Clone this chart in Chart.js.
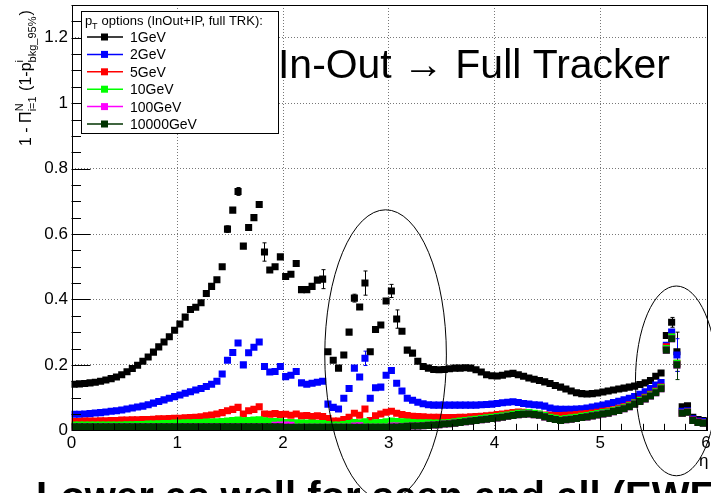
<!DOCTYPE html>
<html>
<head>
<meta charset="utf-8">
<script src="https://cdn.jsdelivr.net/npm/chart.js@4.4.0/dist/chart.umd.min.js"></script>
<style>
  html, body { margin: 0; padding: 0; background: #fff; }
  #wrap { width: 711px; height: 493px; }
</style>
</head>
<body>
<div id="wrap"><canvas id="chart" width="711" height="493"></canvas></div>
<script>
// eta bins: 120 bins of 0.05 between 0 and 6
const nBins = 120;
const binWidth = 0.05;
const etaCenters = Array.from({ length: nBins }, (_, i) => (i + 0.5) * binWidth);

const xTicks = [0, 1, 2, 3, 4, 5, 6];
const xTickLabels = ['0', '1', '2', '3', '4', '5', '6'];
const yTicks = [0, 0.2, 0.4, 0.6, 0.8, 1, 1.2];
const yTickLabels = ['0', '0.2', '0.4', '0.6', '0.8', '1', '1.2'];

const seriesLabels = ['1GeV', '2GeV', '5GeV', '10GeV', '100GeV', '10000GeV'];
const seriesColors = ['#000000', '#0000ff', '#ff0000', '#00ff00', '#ff00ff', '#003300'];

const pt1GeV = [
  0.141, 0.142, 0.143, 0.145, 0.147, 0.150, 0.154, 0.158, 0.163, 0.170,
  0.179, 0.189, 0.199, 0.211, 0.224, 0.239, 0.255, 0.270, 0.286, 0.306,
  0.325, 0.346, 0.369, 0.376, 0.390, 0.418, 0.440, 0.460, 0.500, 0.615,
  0.673, 0.730, 0.563, 0.620, 0.650, 0.690, 0.545, 0.490, 0.500, 0.530,
  0.470, 0.477, 0.510, 0.430, 0.430, 0.440, 0.459, 0.462, 0.240, 0.214,
  0.190, 0.230, 0.300, 0.404, 0.377, 0.450, 0.240, 0.308, 0.322, 0.395,
  0.426, 0.340, 0.303, 0.245, 0.236, 0.211, 0.195, 0.190, 0.186, 0.185,
  0.186, 0.188, 0.190, 0.190, 0.191, 0.190, 0.185, 0.178, 0.170, 0.167,
  0.166, 0.168, 0.172, 0.174, 0.170, 0.165, 0.160, 0.156, 0.152, 0.148,
  0.143, 0.137, 0.132, 0.126, 0.120, 0.115, 0.112, 0.111, 0.112, 0.114,
  0.117, 0.120, 0.123, 0.126, 0.129, 0.132, 0.135, 0.140, 0.145, 0.152,
  0.165, 0.175, 0.290, 0.330, 0.240, 0.072, 0.075, 0.040, 0.033, 0.030
];
const pt2GeV = [
  0.049, 0.049, 0.050, 0.051, 0.053, 0.054, 0.056, 0.058, 0.060, 0.062,
  0.065, 0.068, 0.071, 0.074, 0.078, 0.083, 0.088, 0.093, 0.098, 0.103,
  0.108, 0.113, 0.118, 0.123, 0.128, 0.134, 0.141, 0.150, 0.172, 0.214,
  0.238, 0.267, 0.200, 0.237, 0.254, 0.270, 0.195, 0.178, 0.180, 0.195,
  0.164, 0.168, 0.180, 0.145, 0.141, 0.144, 0.147, 0.150, 0.080, 0.070,
  0.065, 0.098, 0.128, 0.190, 0.163, 0.220, 0.098, 0.130, 0.132, 0.168,
  0.183, 0.144, 0.120, 0.098, 0.092, 0.086, 0.081, 0.078, 0.077, 0.077,
  0.077, 0.077, 0.077, 0.077, 0.077, 0.077, 0.077, 0.078, 0.079, 0.080,
  0.082, 0.084, 0.086, 0.087, 0.085, 0.082, 0.080, 0.078, 0.077, 0.074,
  0.068, 0.065, 0.064, 0.064, 0.064, 0.065, 0.066, 0.068, 0.071, 0.074,
  0.077, 0.081, 0.085, 0.089, 0.093, 0.098, 0.103, 0.110, 0.118, 0.128,
  0.138, 0.146, 0.260, 0.300, 0.230, 0.058, 0.060, 0.035, 0.028, 0.027
];
const pt5GeV = [
  0.027, 0.027, 0.028, 0.028, 0.028, 0.029, 0.029, 0.030, 0.030, 0.031,
  0.031, 0.032, 0.032, 0.033, 0.033, 0.034, 0.035, 0.035, 0.036, 0.037,
  0.037, 0.038, 0.039, 0.040, 0.041, 0.044, 0.047, 0.050, 0.054, 0.060,
  0.064, 0.070, 0.050, 0.060, 0.064, 0.072, 0.050, 0.049, 0.051, 0.048,
  0.049, 0.046, 0.050, 0.044, 0.045, 0.042, 0.044, 0.042, 0.036, 0.028,
  0.028, 0.033, 0.040, 0.052, 0.046, 0.065, 0.030, 0.044, 0.050, 0.055,
  0.058, 0.052, 0.048, 0.045, 0.043, 0.042, 0.041, 0.040, 0.040, 0.040,
  0.039, 0.039, 0.039, 0.040, 0.040, 0.041, 0.042, 0.043, 0.044, 0.046,
  0.048, 0.050, 0.052, 0.054, 0.056, 0.055, 0.053, 0.051, 0.049, 0.047,
  0.046, 0.045, 0.045, 0.046, 0.047, 0.048, 0.050, 0.051, 0.053, 0.055,
  0.058, 0.060, 0.063, 0.067, 0.072, 0.078, 0.085, 0.093, 0.101, 0.110,
  0.120, 0.132, 0.255, 0.285, 0.205, 0.052, 0.056, 0.031, 0.025, 0.023
];
const pt10GeV = [
  0.016, 0.016, 0.016, 0.016, 0.016, 0.016, 0.016, 0.016, 0.016, 0.016,
  0.017, 0.017, 0.018, 0.018, 0.019, 0.019, 0.020, 0.021, 0.021, 0.022,
  0.022, 0.023, 0.023, 0.024, 0.024, 0.025, 0.025, 0.026, 0.027, 0.028,
  0.030, 0.031, 0.029, 0.030, 0.031, 0.032, 0.029, 0.027, 0.027, 0.026,
  0.024, 0.024, 0.023, 0.022, 0.022, 0.022, 0.021, 0.021, 0.018, 0.016,
  0.016, 0.018, 0.021, 0.024, 0.023, 0.026, 0.020, 0.023, 0.024, 0.026,
  0.028, 0.027, 0.026, 0.025, 0.024, 0.023, 0.023, 0.023, 0.022, 0.022,
  0.023, 0.024, 0.026, 0.028, 0.030, 0.032, 0.034, 0.036, 0.038, 0.040,
  0.042, 0.044, 0.047, 0.049, 0.052, 0.053, 0.054, 0.052, 0.050, 0.045,
  0.040, 0.037, 0.034, 0.036, 0.038, 0.040, 0.043, 0.045, 0.048, 0.051,
  0.054, 0.056, 0.060, 0.064, 0.069, 0.075, 0.083, 0.091, 0.099, 0.108,
  0.118, 0.130, 0.250, 0.285, 0.205, 0.052, 0.055, 0.030, 0.024, 0.022
];
const pt100GeV = [
  0.011, 0.011, 0.011, 0.011, 0.011, 0.011, 0.011, 0.011, 0.011, 0.011,
  0.011, 0.011, 0.011, 0.011, 0.011, 0.011, 0.011, 0.011, 0.011, 0.011,
  0.011, 0.011, 0.011, 0.011, 0.011, 0.011, 0.011, 0.011, 0.011, 0.011,
  0.011, 0.011, 0.011, 0.011, 0.011, 0.011, 0.011, 0.011, 0.015, 0.016,
  0.016, 0.015, 0.009, 0.009, 0.009, 0.009, 0.009, 0.009, 0.009, 0.009,
  0.009, 0.009, 0.009, 0.013, 0.014, 0.009, 0.009, 0.009, 0.009, 0.009,
  0.013, 0.013, 0.011, 0.012, 0.013, 0.013, 0.014, 0.015, 0.016, 0.017,
  0.019, 0.020, 0.022, 0.024, 0.026, 0.028, 0.030, 0.032, 0.034, 0.036,
  0.038, 0.040, 0.043, 0.045, 0.048, 0.049, 0.050, 0.048, 0.046, 0.041,
  0.036, 0.033, 0.030, 0.032, 0.034, 0.036, 0.039, 0.041, 0.044, 0.047,
  0.050, 0.052, 0.057, 0.061, 0.066, 0.072, 0.080, 0.088, 0.096, 0.105,
  0.115, 0.127, 0.245, 0.280, 0.200, 0.052, 0.055, 0.030, 0.024, 0.022
];
const pt10000GeV = [
  0.011, 0.011, 0.011, 0.011, 0.011, 0.011, 0.011, 0.011, 0.011, 0.011,
  0.011, 0.011, 0.011, 0.011, 0.011, 0.011, 0.011, 0.011, 0.011, 0.011,
  0.011, 0.011, 0.011, 0.011, 0.011, 0.011, 0.011, 0.011, 0.011, 0.011,
  0.011, 0.011, 0.011, 0.011, 0.011, 0.011, 0.011, 0.011, 0.011, 0.011,
  0.009, 0.009, 0.009, 0.009, 0.009, 0.009, 0.009, 0.009, 0.009, 0.009,
  0.009, 0.009, 0.009, 0.009, 0.009, 0.009, 0.009, 0.009, 0.009, 0.009,
  0.010, 0.010, 0.011, 0.012, 0.013, 0.013, 0.014, 0.015, 0.016, 0.017,
  0.019, 0.020, 0.022, 0.024, 0.026, 0.028, 0.030, 0.032, 0.034, 0.036,
  0.038, 0.040, 0.043, 0.045, 0.048, 0.049, 0.050, 0.048, 0.046, 0.041,
  0.036, 0.033, 0.030, 0.032, 0.034, 0.036, 0.039, 0.041, 0.044, 0.047,
  0.050, 0.052, 0.057, 0.061, 0.066, 0.072, 0.080, 0.088, 0.096, 0.105,
  0.115, 0.127, 0.245, 0.280, 0.200, 0.052, 0.055, 0.030, 0.024, 0.022
];

// error bars: [bin index, half height]
const err1GeV = [[29, 0.01], [31, 0.012], [36, 0.028], [47, 0.029], [53, 0.012], [55, 0.037], [60, 0.02], [61, 0.028], [113, 0.015], [114, 0.06]];
const err2GeV = [[55, 0.022], [114, 0.05]];
const err10000GeV = [[114, 0.045]];

// hand-drawn ellipses on the slide, in data units
const ellipseCenters = [[2.97, 0.23], [5.72, 0.151]];
const ellipseRadii = [[0.575, 0.444], [0.387, 0.29]];

const seriesValues = [pt1GeV, pt2GeV, pt5GeV, pt10GeV, pt100GeV, pt10000GeV];
const seriesErrors = [err1GeV, err2GeV, [], [], [], err10000GeV];

const fontName = '"Liberation Sans", Arial, Helvetica, sans-serif';

function toPoints(values) {
    return values.map((v, i) => ({ x: etaCenters[i], y: v }));
}

const rootStyle = {
    id: 'rootStyle',
    beforeDatasetsDraw(chart) {
        // error bars under the markers
        const ctx = chart.ctx;
        const xs = chart.scales.x, ys = chart.scales.y;
        ctx.save();
        ctx.lineWidth = 1;
        seriesErrors.forEach((errs, k) => {
            ctx.strokeStyle = seriesColors[k];
            errs.forEach(([i, e]) => {
                const px = Math.round(xs.getPixelForValue(etaCenters[i])) + 0.5;
                const y1 = ys.getPixelForValue(seriesValues[k][i] - e);
                const y2 = ys.getPixelForValue(seriesValues[k][i] + e);
                ctx.beginPath();
                ctx.moveTo(px, y1); ctx.lineTo(px, y2);
                ctx.moveTo(px - 2, y1); ctx.lineTo(px + 2, y1);
                ctx.moveTo(px - 2, y2); ctx.lineTo(px + 2, y2);
                ctx.stroke();
            });
        });
        ctx.restore();
    },
    afterDraw(chart) {
        const ctx = chart.ctx;
        const a = chart.chartArea;
        const xs = chart.scales.x, ys = chart.scales.y;
        ctx.save();

        // frame
        ctx.strokeStyle = '#000';
        ctx.lineWidth = 1;
        ctx.strokeRect(Math.round(a.left) + 0.5, Math.round(a.top) + 0.5,
            Math.round(a.right - a.left), Math.round(a.bottom - a.top));

        // ticks, inside the frame
        ctx.beginPath();
        for (let v = 0; v <= 6.001; v += 0.2) {
            const px = Math.round(xs.getPixelForValue(v)) + 0.5;
            const major = Math.abs(v - Math.round(v)) < 1e-6;
            ctx.moveTo(px, a.bottom);
            ctx.lineTo(px, a.bottom - (major ? 13 : 6.5));
        }
        for (let v = 0; v <= 1.301; v += 0.05) {
            const py = Math.round(ys.getPixelForValue(v)) + 0.5;
            const major = Math.abs(v / 0.2 - Math.round(v / 0.2)) < 1e-6;
            ctx.moveTo(a.left, py);
            ctx.lineTo(a.left + (major ? 19 : 9.5), py);
        }
        ctx.stroke();

        // tick labels
        ctx.fillStyle = '#000';
        ctx.font = `17px ${fontName}`;
        ctx.textAlign = 'center';
        ctx.textBaseline = 'alphabetic';
        xTicks.forEach((v, i) => ctx.fillText(xTickLabels[i], xs.getPixelForValue(v), 448));
        ctx.textAlign = 'right';
        ctx.textBaseline = 'middle';
        yTicks.forEach((v, i) => ctx.fillText(yTickLabels[i], 68, ys.getPixelForValue(v)));

        // x axis title
        ctx.textAlign = 'left';
        ctx.textBaseline = 'alphabetic';
        ctx.fillText('\u03B7', 699, 466);

        // y axis title, rotated
        ctx.save();
        ctx.translate(31, 146);
        ctx.rotate(-Math.PI / 2);
        let cx = 0;
        const put = (t, size, dy) => {
            ctx.font = `${size}px ${fontName}`;
            ctx.fillText(t, cx, dy);
            return ctx.measureText(t).width;
        };
        cx += put('1 - \u03A0', 16, 0);
        const w1 = put('N', 11, -8);
        const w2 = put('i=1', 11, 5);
        cx += Math.max(w1, w2) + 1;
        cx += put(' (1-p', 16, 0);
        const w3 = put('i', 11, -8);
        const w4 = put('bkg_95%', 11, 5);
        cx += Math.max(w3, w4) + 1;
        put(')', 16, 0);
        ctx.restore();

        // legend box
        const lx = 81, ly = 11, lw = 197, lh = 122;
        ctx.fillStyle = '#fff';
        ctx.fillRect(lx, ly, lw, lh);
        ctx.strokeStyle = '#000';
        ctx.strokeRect(lx + 0.5, ly + 0.5, lw, lh);
        ctx.fillStyle = '#000';
        ctx.font = `13px ${fontName}`;
        ctx.fillText('p', 85, 25);
        ctx.font = `9px ${fontName}`;
        ctx.fillText('T', 92, 29);
        ctx.font = `13px ${fontName}`;
        ctx.fillText(' options (InOut+IP, full TRK):', 98, 25);
        chart.data.datasets.forEach((ds, k) => {
            const ry = 37 + k * 17.4;
            ctx.strokeStyle = ds.borderColor;
            ctx.lineWidth = 1.5;
            ctx.beginPath();
            ctx.moveTo(87, ry); ctx.lineTo(123, ry);
            ctx.stroke();
            ctx.fillStyle = ds.backgroundColor;
            ctx.fillRect(101, ry - 3.5, 7, 7);
            ctx.fillStyle = '#000';
            ctx.font = `14px ${fontName}`;
            ctx.fillText(ds.label, 130, ry + 5);
        });

        // slide title
        const title = 'In-Out \u2192 Full Tracker';
        ctx.font = `44px ${fontName}`;
        const tw = ctx.measureText(title).width;
        const size = 44 * 392 / tw;
        ctx.font = `${size}px ${fontName}`;
        ctx.fillText(title, 278, 78);

        // ellipses
        ctx.strokeStyle = '#000';
        ctx.lineWidth = 1;
        ellipseCenters.forEach(([ex, ey], k) => {
            const px = xs.getPixelForValue(ex);
            const py = ys.getPixelForValue(ey);
            const rx = xs.getPixelForValue(ex + ellipseRadii[k][0]) - px;
            const ry = py - ys.getPixelForValue(ey + ellipseRadii[k][1]);
            ctx.beginPath();
            ctx.ellipse(px, py, rx, ry, 0, 0, Math.PI * 2);
            ctx.stroke();
        });

        // slide text cut off at the bottom
        ctx.fillStyle = '#000';
        ctx.font = `bold 40px ${fontName}`;
        ctx.fillText('Lower as well for seen and all (EWF', 36, 510);

        ctx.restore();
    }
};

const gridColor = (c) => (c.tick && (c.tick.value === 0 || c.tick.value === 6)) ? 'rgba(0,0,0,0)' : '#777';

new Chart(document.getElementById('chart'), {
    type: 'scatter',
    data: {
        datasets: seriesLabels.map((label, k) => ({
            label: label,
            data: toPoints(seriesValues[k]),
            backgroundColor: seriesColors[k],
            borderColor: seriesColors[k],
            borderWidth: 0,
            pointStyle: 'rect',
            pointRadius: 5,
            pointHoverRadius: 5,
            showLine: false,
            order: seriesLabels.length - k
        }))
    },
    options: {
        responsive: false,
        animation: false,
        devicePixelRatio: 1,
        events: [],
        layout: { padding: { left: 0, right: 4, top: 5, bottom: 0 } },
        plugins: {
            legend: { display: false },
            tooltip: { enabled: false }
        },
        scales: {
            x: {
                type: 'linear',
                min: 0,
                max: 6,
                afterBuildTicks: (s) => { s.ticks = xTicks.map(v => ({ value: v })); },
                afterFit: (s) => { s.height = 62.7; },
                ticks: { display: false },
                grid: { color: gridColor, drawTicks: false, lineWidth: 1 },
                border: { display: false, dash: [1, 2] }
            },
            y: {
                type: 'linear',
                min: 0,
                max: 1.3,
                afterBuildTicks: (s) => { s.ticks = yTicks.map(v => ({ value: v })); },
                afterFit: (s) => { s.width = 71.5; },
                ticks: { display: false },
                grid: { color: gridColor, drawTicks: false, lineWidth: 1 },
                border: { display: false, dash: [1, 2] }
            }
        }
    },
    plugins: [rootStyle]
});
</script>
</body>
</html>
